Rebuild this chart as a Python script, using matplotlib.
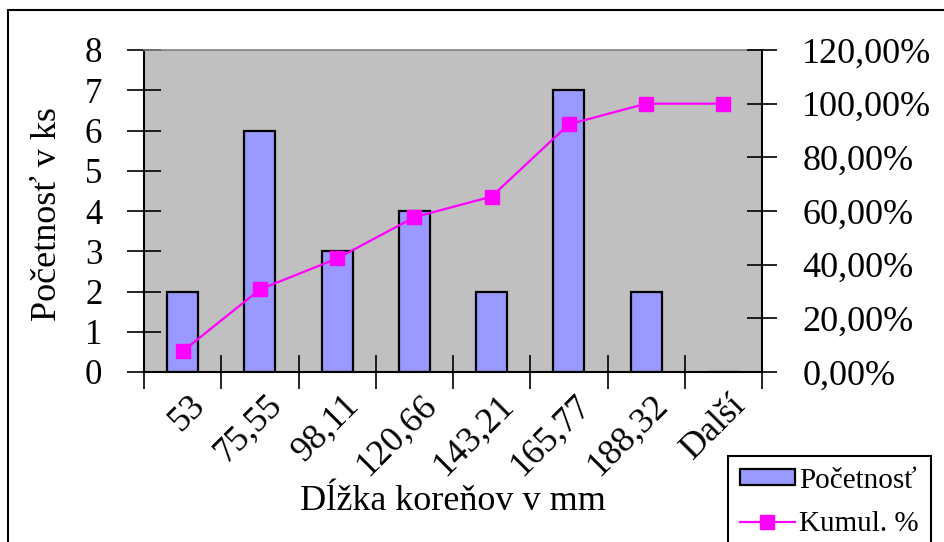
import numpy as np
import matplotlib
matplotlib.use("Agg")
import matplotlib.pyplot as plt
import matplotlib.transforms as mtransforms
from matplotlib.patches import Rectangle, Patch
from matplotlib.lines import Line2D
from matplotlib.ticker import FuncFormatter

# ---- data ----
categories = ["53", "75,55", "98,11", "120,66", "143,21", "165,77", "188,32", "Další"]
counts     = [2, 6, 3, 4, 2, 7, 2, 0]
cumul_pct  = [7.69, 30.77, 42.31, 57.69, 65.38, 92.31, 100.0, 100.0]

plt.rcParams["font.family"] = ["Liberation Serif", "DejaVu Serif"]

BAR_COLOR  = "#9999FF"
LINE_COLOR = "#FF00FF"
PLOT_BG    = "#C0C0C0"

fig = plt.figure(figsize=(9.44, 5.42), dpi=100)
W, H = 944, 542

# axes placed by pixel box of the plot area
left, right, top, bottom = 144, 762, 50, 372
ax = fig.add_axes([left / W, 1 - bottom / H, (right - left) / W, (bottom - top) / H])
ax.set_facecolor(PLOT_BG)

x = np.arange(len(categories))
ax.bar(x, counts, width=0.4, color=BAR_COLOR, edgecolor="black", linewidth=1.6, zorder=2)
ax.set_xlim(-0.5, len(categories) - 0.5)
ax.set_ylim(0, 8)
ax.set_yticks(range(0, 9))

# category boundaries get the ticks, centres get the labels
ax.set_xticks(np.arange(-0.5, len(categories), 1.0))
ax.set_xticklabels([])
ax.set_xticks(x, categories, minor=True)
ax.tick_params(axis="x", which="minor", length=0, pad=12, labelsize=26)
shift = mtransforms.ScaledTranslation(6 / 100, 0, fig.dpi_scale_trans)
for lbl in ax.get_xticklabels(minor=True):
    lbl.set_rotation(45)
    lbl.set_ha("right")
    lbl.set_va("top")
    lbl.set_rotation_mode("anchor")
    lbl.set_transform(lbl.get_transform() + shift)
ax.tick_params(axis="x", which="major", direction="inout", length=24, width=1.2)
ax.tick_params(axis="y", direction="inout", length=24, width=1.2, labelsize=25, pad=18)

for s in ["left", "bottom", "right"]:
    ax.spines[s].set_color("black")
    ax.spines[s].set_linewidth(1.5)
ax.spines["top"].set_color("#808080")
ax.spines["top"].set_linewidth(1.2)

ax.set_ylabel("Početnosť v ks", fontsize=26)
ax.yaxis.set_label_coords(-0.13, 0.49)
ax.set_xlabel("Dĺžka koreňov v mm", fontsize=26)
ax.xaxis.set_label_coords(0.5, -0.35)

# secondary axis for cumulative %
ax2 = ax.twinx()
ax2.plot(x, cumul_pct, color=LINE_COLOR, linewidth=1.6, marker="s",
         markersize=10, markeredgecolor=LINE_COLOR, zorder=3)
ax2.set_ylim(0, 120)
ax2.set_yticks(range(0, 121, 20))
ax2.yaxis.set_major_formatter(FuncFormatter(lambda v, p: f"{v:.2f}%".replace(".", ",")))
ax2.tick_params(axis="y", direction="inout", length=22, width=1.2, labelsize=26, pad=18)
for s in ax2.spines.values():
    s.set_visible(False)

# outer chart border (runs off the right/bottom edge)
fig.patches.append(Rectangle((8 / W, -0.2), 1.2, (H - 10) / H + 0.2,
                             transform=fig.transFigure, fill=False,
                             edgecolor="black", linewidth=1.5))

handles = [Patch(facecolor=BAR_COLOR, edgecolor="black", linewidth=1.6),
           Line2D([0], [0], color=LINE_COLOR, linewidth=1.6, marker="s",
                  markersize=10)]
leg = fig.legend(handles, ["Početnosť", "Kumul. %"], loc="upper left",
                 bbox_to_anchor=(728 / W, 1 - 456 / H), fontsize=21,
                 frameon=True, fancybox=False, framealpha=1, edgecolor="black",
                 borderpad=0.4, handlelength=1.9, handleheight=0.45,
                 handletextpad=0.15, labelspacing=0.6, borderaxespad=0)
leg.get_frame().set_linewidth(1.5)

fig.savefig("out.png", dpi=100)
